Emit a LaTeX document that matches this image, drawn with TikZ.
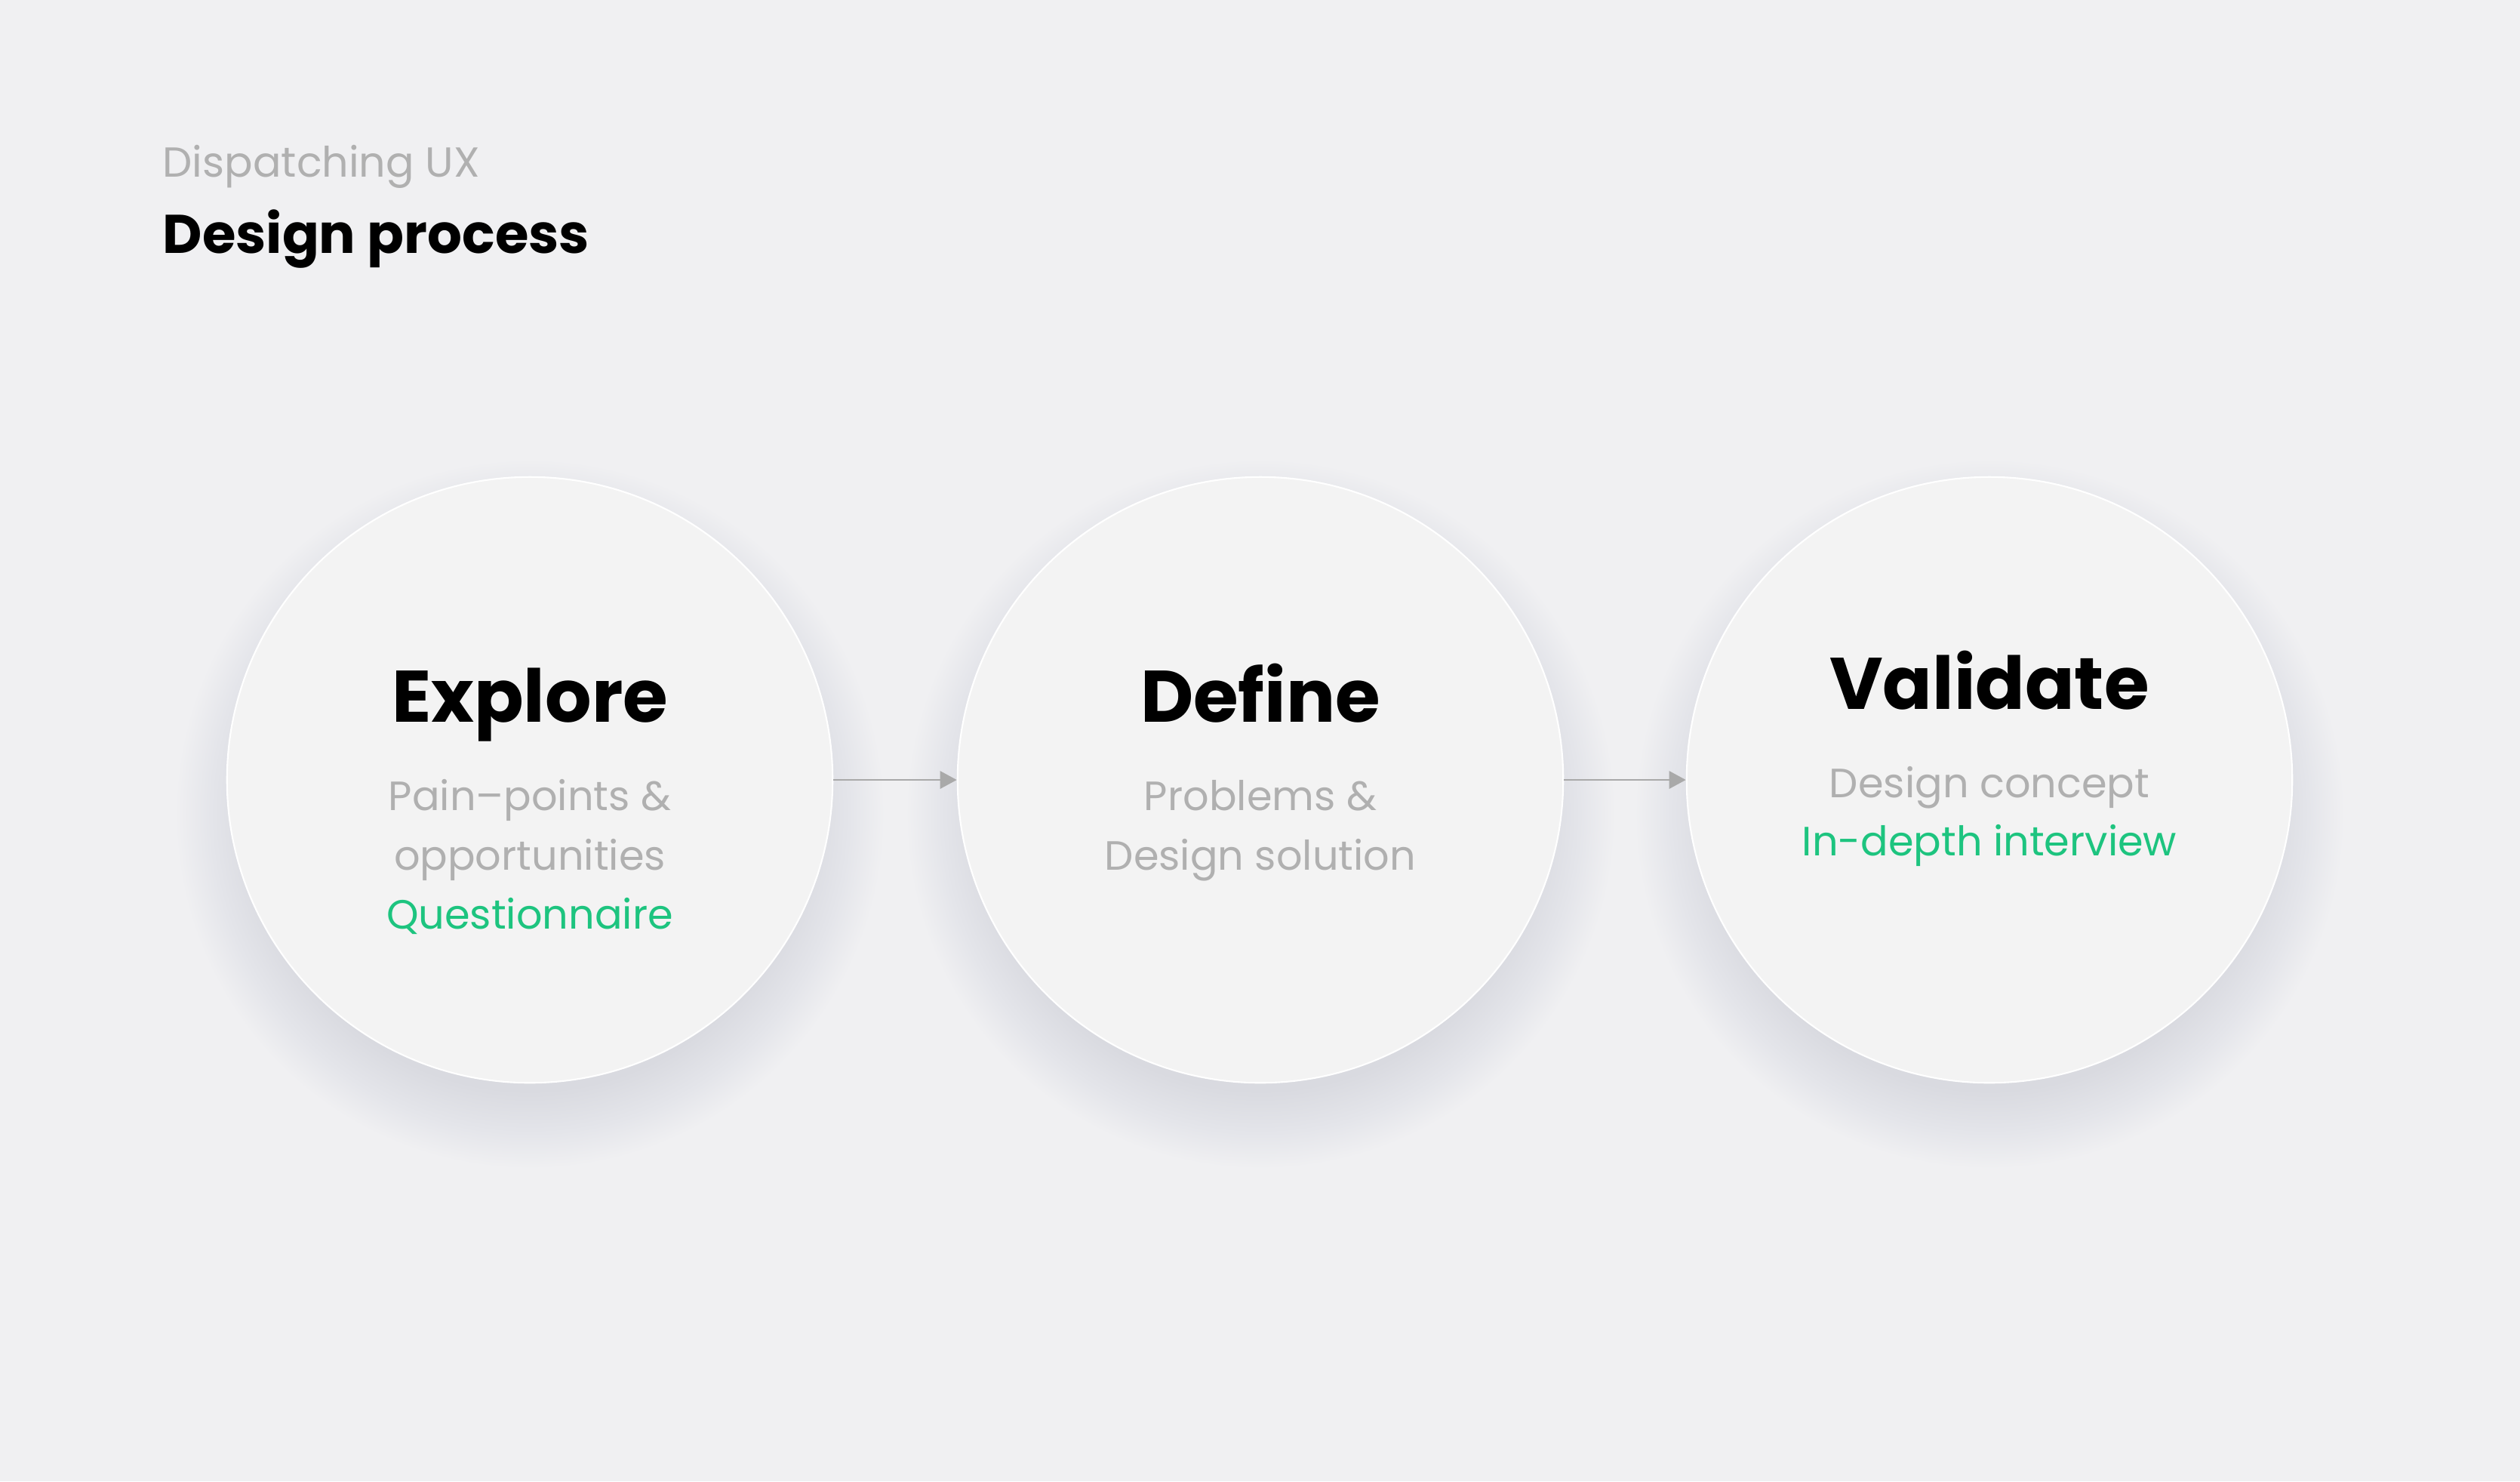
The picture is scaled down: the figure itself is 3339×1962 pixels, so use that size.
\documentclass[tikz,border=0pt]{standalone}
\usepackage{fontspec}
\setmainfont{Poppins}
\usepackage{tikz}
\usetikzlibrary{positioning,arrows.meta,calc}
\usepackage{xcolor}

\definecolor{bgc}{HTML}{F0F0F2}
\definecolor{discfill}{HTML}{F3F3F3}
\definecolor{shc}{HTML}{D9DAE0}
\definecolor{shmid}{HTML}{E4E5EA}
\definecolor{subgray}{HTML}{B0B0B0}
\definecolor{arrowgray}{HTML}{A9A9A9}
\definecolor{mint}{HTML}{1DC47F}

\pgfdeclareradialshading{discshadow}{\pgfpoint{0bp}{0bp}}{color(0bp)=(shc); color(19.5bp)=(shc); color(22.5bp)=(shmid); color(25bp)=(bgc); color(50bp)=(bgc)}

\tikzset{
  stage/.style={circle, draw=white, line width=0.6pt, fill=discfill, minimum size=8.02cm, inner sep=0pt},
  stagetitle/.style={anchor=base, font=\fontsize{27.5}{33}\selectfont\bfseries},
  stagetext/.style={anchor=base, text=subgray, font=\fontsize{15.4}{19}\selectfont},
  stagemethod/.style={anchor=base, text=mint, font=\fontsize{15.4}{19}\selectfont},
  flow/.style={draw=arrowgray, line width=0.8pt, -{Triangle[length=6.3pt,width=6.6pt]}}
}

\begin{document}
\begin{tikzpicture}[x=0.01cm,y=-0.01cm]
  \fill[bgc] (0,0) rectangle (3339,1962);
  \useasboundingbox (0,0) rectangle (3339,1962);

  % header
  \node[anchor=base west, text=subgray, font=\fontsize{15.8}{19}\selectfont, inner sep=0pt] (kicker) at (215,234) {Dispatching UX};
  \node[anchor=base west, font=\fontsize{20.5}{25}\selectfont\bfseries, inner sep=0pt] (heading) at (215,335) {Design process};

  % shadows
  \foreach \cx in {702,1670,2636}
    \shade[shading=discshadow] (\cx,1078) circle (470);

  % stages
  \node[stage] (explore) at (702,1033) {};
  \node[stage] (define) at (1670,1033) {};
  \node[stage] (validate) at (2636,1033) {};

  \draw[flow] (explore) -- (define);
  \draw[flow] (define) -- (validate);

  % explore
  \node[stagetitle] (exploretitle) at (702,956) {Explore};
  \node[stagetext] (explorepain) at (702,1073) {Pain–points \&};
  \node[stagetext] (exploreopp) at (702,1152) {opportunities};
  \node[stagemethod] (exploremethod) at (702,1230) {Questionnaire};

  % define
  \node[stagetitle] (definetitle) at (1670,956) {Define};
  \node[stagetext] (defineprob) at (1670,1073) {Problems \&};
  \node[stagetext] (definesol) at (1670,1152) {Design solution};

  % validate
  \node[stagetitle] (validatetitle) at (2636,939) {Validate};
  \node[stagetext] (validateconcept) at (2636,1056) {Design concept};
  \node[stagemethod] (validatemethod) at (2636,1133) {In-depth interview};
\end{tikzpicture}
\end{document}
